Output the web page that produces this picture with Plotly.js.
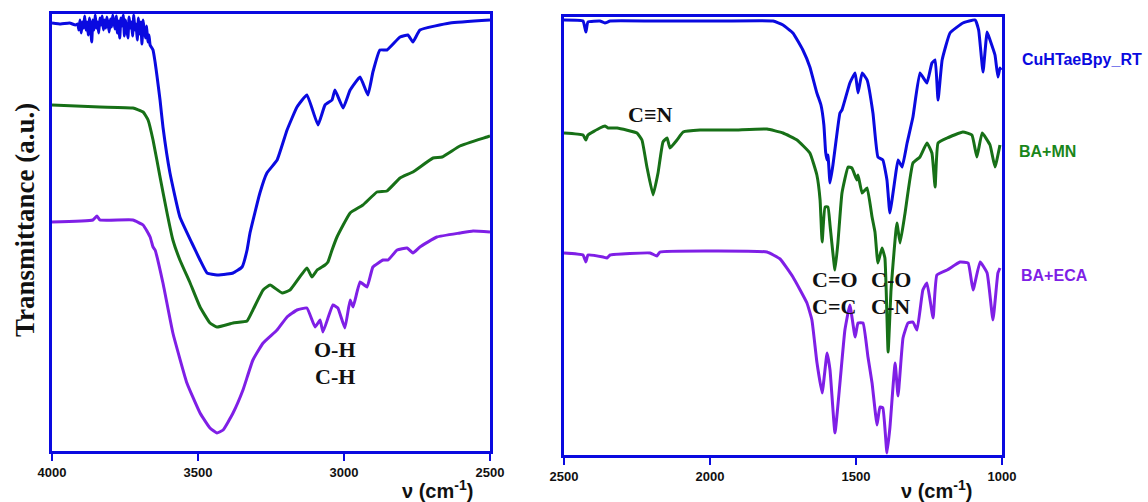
<!DOCTYPE html>
<html>
<head>
<meta charset="utf-8">
<script src="https://cdn.plot.ly/plotly-3.0.1.min.js"></script>
<style>
html,body{margin:0;padding:0;background:#fff;}
#chart{width:1148px;height:502px;}
</style>
</head>
<body>
<div id="chart"></div>
<script>
// ---------- DATA (wavenumber in cm-1, transmittance in arbitrary offset units) ----------
// Left panel: 4000-2500 cm-1
var cuLeftX = [4000,3970,3940,3920,
 3912,3908,3904,3900,3896,3892,3888,3884,3880,3876,3872,3868,3864,3860,3856,3852,3848,3844,3840,3836,3832,3828,3824,3820,3816,3812,3808,3804,3800,3796,3792,3788,3784,3780,3776,3772,3768,3764,3760,3756,3752,3748,3744,3740,3736,3732,3728,3724,3720,3716,3712,3708,3704,3700,3696,3692,3688,3684,3680,3676,3672,3668,
 3664,3654,3647,3640,3630,3620,3596,3562,3521,3493,3469,3435,3400,3380,3349,3332,3322,3288,3264,3229,3195,3161,3127,3089,3065,3041,3031,3003,2979,2945,2918,2901,2877,2853,2808,2781,2764,2740,2637,2500];
var cuLeftY = [428,427,428,426,
 427,421,431,418,429,423,435,421,429,416,433,425,409,431,421,436,423,429,418,433,426,435,421,431,423,434,427,419,432,424,436,429,422,435,418,430,413,433,425,436,415,431,421,413,434,423,429,415,436,421,427,411,433,417,429,407,431,421,413,425,409,416,
 406,401,389,374,351,324,278,234,208,191,178,176,177,178,184,201,218,258,278,291,321,344,356,326,346,351,361,343,361,374,356,379,401,401,414,416,409,421,428,431];

var mnLeftX = [4000,3836,3723,3688,3671,3654,3630,3606,3586,3562,3527,3493,3459,3435,3380,3332,3312,3277,3253,3212,3185,3127,3110,3092,3065,3055,3041,3024,2979,2935,2887,2853,2808,2764,2695,2664,2603,2510,2500];
var mnLeftY = [346,344,343,339,331,311,274,238,211,191,168,144,128,124,128,130,141,161,166,158,161,183,174,181,186,189,201,214,238,246,259,260,273,279,293,294,305,314,315];

var ecaLeftX = [4000,3860,3846,3836,3723,3688,3664,3654,3647,3620,3586,3538,3493,3459,3435,3414,3380,3346,3312,3277,3229,3195,3161,3127,3099,3082,3072,3038,3021,2997,2979,2969,2945,2921,2901,2866,2849,2818,2784,2764,2740,2682,2603,2558,2500];
var ecaLeftY = [229,231,235,231,231,226,214,204,201,168,118,68,38,23,18,21,38,61,91,108,121,134,141,143,124,131,119,146,143,123,151,144,169,164,184,191,191,201,203,198,204,214,218,220,219];

// Right panel: 2500-1000 cm-1
var cuRightX = [2500,2435,2425,2418,2377,2360,2342,2200,2092,1955,1784,1750,1716,1682,1658,1634,1620,1610,1604,1599,1596,1589,1579,1568,1555,1548,1521,1503,1493,1479,1462,1442,1425,1408,1394,1384,1367,1356,1342,1325,1305,1281,1257,1240,1229,1219,1205,1178,1134,1092,1080,1065,1051,1041,1024,1014,1007,1003];
var cuRightY = [435,434,423,433,434,432,434,434,434,434,434,430,422,405,388,362,350,330,303,295,300,272,290,315,342,345,372,382,362,382,375,342,298,295,275,242,275,295,288,312,338,382,372,392,395,355,395,422,432,435,425,383,423,415,400,378,387,385];

var mnRightX = [2500,2435,2425,2418,2377,2360,2349,2318,2250,2233,2216,2195,2178,2161,2147,2137,2113,2092,2034,1921,1805,1750,1702,1658,1634,1623,1616,1606,1596,1589,1572,1562,1548,1527,1514,1497,1493,1479,1462,1445,1435,1425,1411,1401,1390,1380,1360,1349,1332,1305,1281,1257,1240,1229,1219,1188,1134,1103,1086,1068,1041,1024,1007];
var mnRightY = [322,320,315,320,327,329,327,327,322,315,288,260,282,313,317,307,315,323,325,325,326,322,315,302,280,255,213,248,248,230,185,212,262,288,287,275,280,262,267,238,223,192,207,197,103,165,232,212,242,292,298,312,302,268,312,317,323,320,298,322,310,288,310];

var ecaRightX = [2500,2435,2425,2418,2366,2353,2342,2205,2182,2171,1976,1805,1760,1716,1668,1651,1634,1616,1599,1589,1572,1555,1538,1521,1503,1493,1476,1459,1445,1428,1418,1408,1394,1384,1366,1356,1339,1322,1305,1291,1271,1257,1236,1223,1188,1144,1116,1099,1075,1051,1031,1014,1007];
var ecaRightY = [202,200,193,200,198,197,200,202,199,203,204,203,196,178,152,135,93,62,102,85,22,72,125,150,118,132,132,98,72,30,48,47,2,27,92,59,117,132,133,125,165,172,137,180,185,193,192,165,193,182,135,182,187];

var seriesNames = ["CuHTaeBpy_RT", "BA+MN", "BA+ECA"];
var leftTicks = [4000, 3500, 3000, 2500];
var rightTicks = [2500, 2000, 1500, 1000];

// ---------- STYLE ----------
var BLUE = "#0a0ae0", GREEN = "#177017", PURPLE = "#7f1fe6";
var GREEN_TXT = "#1a861a";
var W = 1148, H = 502;
function px(x){return x/W;}
function py(y){return 1 - y/H;}

function tr(x, y, color, xa, ya, name){
  return {x:x, y:y, type:"scatter", mode:"lines", name:name, xaxis:xa, yaxis:ya,
    line:{color:color, width:3, shape:"spline", smoothing:0.35}, hoverinfo:"x+y+name"};
}
var data = [
  tr(cuLeftX, cuLeftY, BLUE, "x", "y", seriesNames[0]),
  tr(mnLeftX, mnLeftY, GREEN, "x", "y", seriesNames[1]),
  tr(ecaLeftX, ecaLeftY, PURPLE, "x", "y", seriesNames[2]),
  tr(cuRightX, cuRightY, BLUE, "x2", "y2", seriesNames[0]),
  tr(mnRightX, mnRightY, GREEN, "x2", "y2", seriesNames[1]),
  tr(ecaRightX, ecaRightY, PURPLE, "x2", "y2", seriesNames[2])
];

var tickFont = {family:"Liberation Sans, Arial, sans-serif", size:13, color:"#111", weight:"bold"};
function xax(domain, range, ticks, anchor){
  return {domain:domain, range:range, anchor:anchor, tickvals:ticks, ticktext:ticks.map(String),
    showline:true, mirror:true, linecolor:BLUE, linewidth:3, ticks:"outside", ticklen:7, tickwidth:2.5,
    tickcolor:BLUE, tickfont:tickFont, showgrid:false, zeroline:false, fixedrange:true};
}
function yax(domain, range, anchor){
  return {domain:domain, range:range, anchor:anchor, showticklabels:false, ticks:"",
    showline:true, mirror:true, linecolor:BLUE, linewidth:3, showgrid:false, zeroline:false, fixedrange:true};
}

var serif = "Liberation Serif, Times New Roman, serif";
var sans = "Liberation Sans, Arial, sans-serif";
function ann(text, x, y, size, color, family, extra){
  var a = {text:text, xref:"paper", yref:"paper", x:px(x), y:py(y), xanchor:"center", yanchor:"middle",
    showarrow:false, font:{family:family, size:size, color:color, weight:"bold"}};
  if (extra) for (var k in extra) a[k] = extra[k];
  return a;
}
var annotations = [
  ann("Transmittance (a.u.)", 25, 220, 27, "#111", serif, {textangle:-90}),
  ann("\u03bd (cm<sup>-1</sup>)", 437, 489, 20, "#111", sans),
  ann("\u03bd (cm<sup>-1</sup>)", 936, 489, 20, "#111", sans),
  ann("C\u2261N", 650, 114, 22, "#111", serif),
  ann("O-H", 335, 349, 22, "#111", serif),
  ann("C-H", 335, 376, 22, "#111", serif),
  ann("C=O", 835, 279, 22, "#111", serif),
  ann("C-O", 891, 279, 22, "#111", serif),
  ann("C=C", 834, 306, 22, "#111", serif),
  ann("C-N", 890, 306, 22, "#111", serif),
  ann(seriesNames[0], 1020, 59, 16, BLUE, sans, {xanchor:"left"}),
  ann(seriesNames[1], 1017, 152, 16, GREEN_TXT, sans, {xanchor:"left"}),
  ann(seriesNames[2], 1019, 275, 16, PURPLE, sans, {xanchor:"left"})
];

var layout = {
  width:W, height:H, margin:{l:0, r:0, t:0, b:0},
  paper_bgcolor:"#fff", plot_bgcolor:"rgba(0,0,0,0)",
  showlegend:false,
  xaxis: xax([px(52), px(490)], [4000, 2500], leftTicks, "y"),
  yaxis: yax([py(451), py(14)], [0, 437], "x"),
  xaxis2: xax([px(564), px(1002)], [2500, 1000], rightTicks, "y2"),
  yaxis2: yax([py(455), py(17)], [0, 438], "x2"),
  annotations: annotations
};

Plotly.newPlot("chart", data, layout, {displayModeBar:false, staticPlot:true});
</script>
</body>
</html>
